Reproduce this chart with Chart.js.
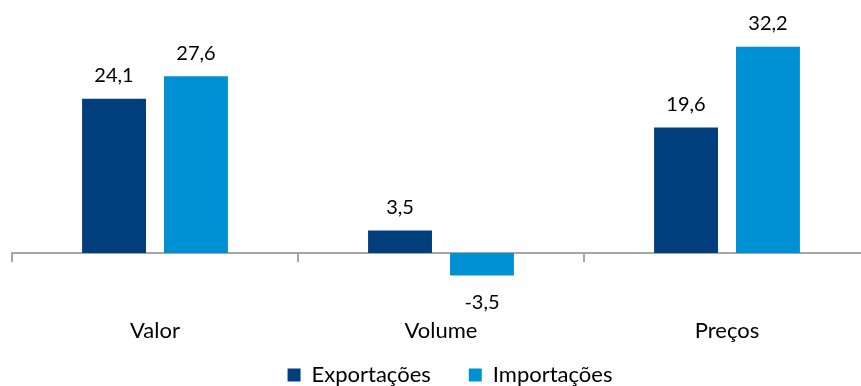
<!DOCTYPE html>
<html>
<head>
<meta charset="utf-8">
<script src="https://cdn.jsdelivr.net/npm/chart.js@4.4.1/dist/chart.umd.min.js"></script>
<style>
  html, body { margin: 0; padding: 0; background: #fff; overflow: hidden; }
  /* the plot runs a little past the right edge of the window */
  #wrap { width: 870px; height: 386px; }
</style>
</head>
<body>
<div id="wrap"><canvas id="barChart"></canvas></div>
<script>
const categories = ["Valor", "Volume", "Preços"];
const exportacoes = [24.1, 3.5, 19.6];
const importacoes = [27.6, -3.5, 32.2];

const FONT = "Lato";
const AXIS_GREY = "#A6A6A6";

// writes each bar's value above it (or below, when negative)
const valueLabels = {
    id: "valueLabels",
    afterDatasetsDraw(chart) {
        const ctx = chart.ctx;
        ctx.save();
        ctx.font = "20px " + FONT;
        ctx.fillStyle = "#000";
        ctx.textAlign = "center";
        ctx.textBaseline = "middle";
        chart.data.datasets.forEach((ds, i) => {
            chart.getDatasetMeta(i).data.forEach((bar, j) => {
                const v = ds.data[j];
                const txt = v.toFixed(1).replace(".", ",");
                const y = v >= 0 ? bar.y - 23 : bar.y + 27;
                ctx.fillText(txt, bar.x, y);
            });
        });
        ctx.restore();
    }
};

// nudge the legend a bit to the right
const legendShift = {
    id: "legendShift",
    afterLayout(chart) {
        if (chart.legend) {
            chart.legend.left += 9;
            chart.legend.right += 9;
        }
    }
};

new Chart(document.querySelector("#barChart"), {
    type: "bar",
    data: {
        labels: categories,
        datasets: [
            {
                label: "Exportações",
                data: exportacoes,
                backgroundColor: "#003E7E",
                categoryPercentage: 0.573,
                barPercentage: 0.78
            },
            {
                label: "Importações",
                data: importacoes,
                backgroundColor: "#0091D4",
                categoryPercentage: 0.573,
                barPercentage: 0.78
            }
        ]
    },
    options: {
        responsive: true,
        maintainAspectRatio: false,
        animation: false,
        layout: { padding: { left: 12, right: 0, top: 0, bottom: 0 } },
        plugins: {
            tooltip: { enabled: false },
            legend: {
                position: "bottom",
                maxHeight: 60,
                labels: {
                    boxWidth: 13,
                    boxHeight: 13,
                    padding: 38,
                    color: "#000",
                    font: { family: FONT, size: 22 }
                }
            }
        },
        scales: {
            y: {
                display: false,
                min: -11.4,
                max: 39.5
            },
            x: {
                position: { y: 0 },
                grid: {
                    offset: true,
                    drawOnChartArea: false,
                    tickLength: 8,
                    color: AXIS_GREY,
                    lineWidth: 2
                },
                border: { color: AXIS_GREY, width: 2 },
                ticks: {
                    padding: 57,
                    color: "#000",
                    font: { family: FONT, size: 22 }
                }
            }
        }
    },
    plugins: [valueLabels, legendShift]
});
</script>
</body>
</html>
